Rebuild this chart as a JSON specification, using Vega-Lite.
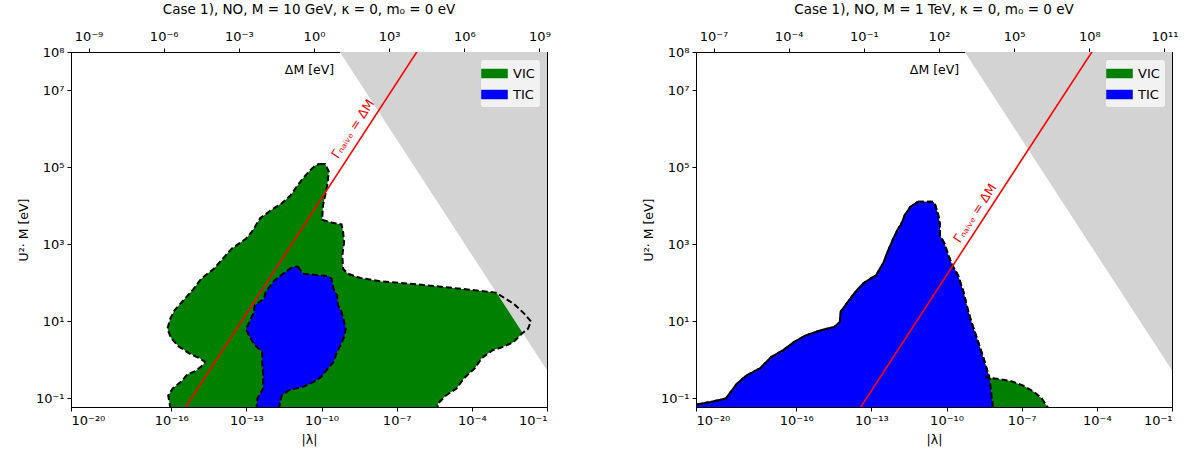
{
 "$schema": "https://vega.github.io/schema/vega-lite/v6.json",
 "background": "white",
 "padding": {"left": 16, "top": 2, "right": 5, "bottom": 2},
 "config": {
  "font": "DejaVu Sans",
  "view": {"stroke": "black", "strokeWidth": 1},
  "axis": {"grid": false, "domainColor": "black", "tickColor": "black", "labelColor": "black", "titleColor": "black", "labelFontSize": 13, "titleFontSize": 12.5, "titleFontWeight": "normal", "tickSize": 4, "labelPadding": 3, "labelFont": "DejaVu Sans", "titleFont": "DejaVu Sans"},
  "title": {"fontSize": 13.5, "fontWeight": "normal", "font": "DejaVu Sans", "offset": 14},
  "legend": {"orient": "top-right", "offset": 7, "title": null, "fillColor": "#f2f2f2", "strokeColor": "#d0d0d0", "padding": 5, "cornerRadius": 3, "labelFontSize": 13, "labelFont": "DejaVu Sans", "symbolType": "M-1.4,-0.5H1.4V0.5H-1.4Z", "symbolSize": 360, "symbolStrokeWidth": 0, "rowPadding": 4, "labelOffset": 9}
 },
 "datasets": {
  "vicL": [
   {"x": 8.13e-11, "y": 123000}, {"x": 1.41e-10, "y": 123000}, {"x": 1.95e-10, "y": 77600}, {"x": 1.70e-10, "y": 34700}, {"x": 1.41e-10, "y": 19100}, {"x": 1.15e-10, "y": 10500}, {"x": 1.05e-10, "y": 4370}, {"x": 2.51e-10, "y": 3720}, {"x": 6.31e-10, "y": 3310}, {"x": 7.24e-10, "y": 2140}, {"x": 7.94e-10, "y": 1150}, {"x": 6.76e-10, "y": 513}, {"x": 7.24e-10, "y": 234}, {"x": 1.12e-9, "y": 174}, {"x": 3.55e-9, "y": 135}, {"x": 2.51e-8, "y": 110}, {"x": 3.47e-7, "y": 95.5}, {"x": 9.33e-6, "y": 77.6}, {"x": 1.29e-4, "y": 64.6}, {"x": 9.12e-4, "y": 56.2}, {"x": 4.68e-3, "y": 28.8}, {"x": 1.26e-2, "y": 15.8}, {"x": 2.29e-2, "y": 10}, {"x": 1.74e-2, "y": 6.46}, {"x": 9.77e-3, "y": 4.79}, {"x": 4.68e-3, "y": 2.95}, {"x": 1.78e-3, "y": 2.19}, {"x": 6.61e-4, "y": 1.78}, {"x": 2.45e-4, "y": 1.10}, {"x": 1.29e-4, "y": 0.603}, {"x": 4.79e-5, "y": 0.331}, {"x": 2.45e-5, "y": 0.182}, {"x": 9.33e-6, "y": 0.120}, {"x": 4.47e-6, "y": 0.0741}, {"x": 3.98e-6, "y": 0.0316},
   {"x": 8.91e-17, "y": 0.0316}, {"x": 9.12e-17, "y": 0.0603}, {"x": 7.59e-17, "y": 0.120}, {"x": 1.15e-16, "y": 0.182}, {"x": 2.63e-16, "y": 0.282}, {"x": 4.27e-16, "y": 0.417}, {"x": 9.77e-16, "y": 0.525}, {"x": 1.78e-15, "y": 0.724}, {"x": 2.24e-15, "y": 0.891}, {"x": 1.35e-15, "y": 1.10}, {"x": 5.01e-16, "y": 1.51}, {"x": 1.91e-16, "y": 2.29}, {"x": 9.77e-17, "y": 3.72}, {"x": 7.08e-17, "y": 6.46}, {"x": 9.12e-17, "y": 11.7}, {"x": 1.35e-16, "y": 19.5}, {"x": 2.63e-16, "y": 31.6}, {"x": 7.08e-16, "y": 64.6}, {"x": 1.58e-15, "y": 129}, {"x": 5.01e-15, "y": 234}, {"x": 1.15e-14, "y": 427}, {"x": 2.57e-14, "y": 776}, {"x": 9.55e-14, "y": 1410}, {"x": 1.70e-13, "y": 2190}, {"x": 3.55e-13, "y": 4790}, {"x": 9.55e-13, "y": 7760}, {"x": 2.57e-12, "y": 11700}, {"x": 5.89e-12, "y": 19100}, {"x": 1.12e-11, "y": 34700}, {"x": 1.82e-11, "y": 52500}, {"x": 3.55e-11, "y": 85100}, {"x": 5.75e-11, "y": 115000}, {"x": 8.13e-11, "y": 123000}
  ],
  "ticL": [
   {"x": 1.12e-11, "y": 269}, {"x": 1.82e-11, "y": 174}, {"x": 1.82e-10, "y": 151}, {"x": 2.51e-10, "y": 129}, {"x": 3.02e-10, "y": 70.8}, {"x": 4.17e-10, "y": 47.9}, {"x": 4.57e-10, "y": 26.3}, {"x": 6.31e-10, "y": 17.8}, {"x": 7.94e-10, "y": 9.77}, {"x": 9.33e-10, "y": 6.46}, {"x": 7.94e-10, "y": 3.98}, {"x": 5.75e-10, "y": 2.40}, {"x": 4.17e-10, "y": 1.62}, {"x": 3.02e-10, "y": 0.891}, {"x": 1.82e-10, "y": 0.603}, {"x": 9.55e-11, "y": 0.363}, {"x": 4.90e-11, "y": 0.269}, {"x": 1.82e-11, "y": 0.200}, {"x": 4.90e-12, "y": 0.162}, {"x": 2.57e-12, "y": 0.120}, {"x": 2.04e-12, "y": 0.0603}, {"x": 2.00e-12, "y": 0.0316},
   {"x": 2.57e-13, "y": 0.0316}, {"x": 2.57e-13, "y": 0.0603}, {"x": 2.75e-13, "y": 0.1}, {"x": 4.68e-13, "y": 0.182}, {"x": 4.68e-13, "y": 0.398}, {"x": 4.27e-13, "y": 0.891}, {"x": 4.27e-13, "y": 1.62}, {"x": 2.19e-13, "y": 2.40}, {"x": 1.35e-13, "y": 3.98}, {"x": 9.55e-14, "y": 6.46}, {"x": 1.35e-13, "y": 9.77}, {"x": 2.00e-13, "y": 17.8}, {"x": 2.19e-13, "y": 26.3}, {"x": 5.01e-13, "y": 38.9}, {"x": 5.89e-13, "y": 57.5}, {"x": 1.32e-12, "y": 117}, {"x": 3.55e-12, "y": 191}, {"x": 6.76e-12, "y": 257}, {"x": 1.12e-11, "y": 269}
  ],
  "ticR": [
   {"x": 7.24e-12, "y": 12900}, {"x": 2.95e-11, "y": 12900}, {"x": 3.55e-11, "y": 10500}, {"x": 4.68e-11, "y": 5750}, {"x": 5.50e-11, "y": 3240}, {"x": 5.50e-11, "y": 1700}, {"x": 8.32e-11, "y": 1050}, {"x": 1.20e-10, "y": 513}, {"x": 1.70e-10, "y": 288}, {"x": 2.88e-10, "y": 158}, {"x": 4.79e-10, "y": 57.5}, {"x": 6.92e-10, "y": 21.4}, {"x": 9.77e-10, "y": 9.77}, {"x": 1.66e-9, "y": 3.55}, {"x": 2.75e-9, "y": 1.32}, {"x": 3.98e-9, "y": 0.603}, {"x": 5.01e-9, "y": 0.398}, {"x": 5.62e-9, "y": 0.219}, {"x": 7.08e-9, "y": 0.0603}, {"x": 7.24e-9, "y": 0.0316},
   {"x": 3.16e-21, "y": 0.0316}, {"x": 3.16e-21, "y": 0.0759}, {"x": 1e-20, "y": 0.0692}, {"x": 3.80e-20, "y": 0.0813}, {"x": 1.55e-19, "y": 0.1}, {"x": 2.19e-19, "y": 0.135}, {"x": 4.37e-19, "y": 0.245}, {"x": 1.05e-18, "y": 0.398}, {"x": 3.55e-18, "y": 0.603}, {"x": 1.02e-17, "y": 1.20}, {"x": 2.95e-17, "y": 1.78}, {"x": 8.32e-17, "y": 2.95}, {"x": 2.40e-16, "y": 4.37}, {"x": 9.55e-16, "y": 5.89}, {"x": 3.31e-15, "y": 7.24}, {"x": 5.50e-15, "y": 9.77}, {"x": 5.89e-15, "y": 17.8}, {"x": 1.12e-14, "y": 31.6}, {"x": 2.24e-14, "y": 57.5}, {"x": 4.57e-14, "y": 95.5}, {"x": 9.12e-14, "y": 129}, {"x": 1.55e-13, "y": 158}, {"x": 3.09e-13, "y": 347}, {"x": 4.37e-13, "y": 631}, {"x": 7.41e-13, "y": 1410}, {"x": 1.26e-12, "y": 2820}, {"x": 1.51e-12, "y": 3240}, {"x": 2.14e-12, "y": 5750}, {"x": 3.63e-12, "y": 9550}, {"x": 7.24e-12, "y": 12900}
  ],
  "vicR": [
   {"x": 7.24e-12, "y": 12900}, {"x": 2.95e-11, "y": 12900}, {"x": 3.55e-11, "y": 10500}, {"x": 4.68e-11, "y": 5750}, {"x": 5.50e-11, "y": 3240}, {"x": 5.50e-11, "y": 1700}, {"x": 8.32e-11, "y": 1050}, {"x": 1.20e-10, "y": 513}, {"x": 1.70e-10, "y": 288}, {"x": 2.88e-10, "y": 158}, {"x": 4.79e-10, "y": 57.5}, {"x": 6.92e-10, "y": 21.4}, {"x": 9.77e-10, "y": 9.77}, {"x": 1.66e-9, "y": 3.55}, {"x": 2.75e-9, "y": 1.32}, {"x": 3.98e-9, "y": 0.603},
   {"x": 3.80e-9, "y": 0.355}, {"x": 1.35e-8, "y": 0.316}, {"x": 3.80e-8, "y": 0.282}, {"x": 1.10e-7, "y": 0.219}, {"x": 3.16e-7, "y": 0.148}, {"x": 6.31e-7, "y": 0.1}, {"x": 1.07e-6, "y": 0.0603}, {"x": 1.12e-6, "y": 0.0316},
   {"x": 3.16e-21, "y": 0.0316}, {"x": 3.16e-21, "y": 0.0759}, {"x": 1e-20, "y": 0.0692}, {"x": 3.80e-20, "y": 0.0813}, {"x": 1.55e-19, "y": 0.1}, {"x": 2.19e-19, "y": 0.135}, {"x": 4.37e-19, "y": 0.245}, {"x": 1.05e-18, "y": 0.398}, {"x": 3.55e-18, "y": 0.603}, {"x": 1.02e-17, "y": 1.20}, {"x": 2.95e-17, "y": 1.78}, {"x": 8.32e-17, "y": 2.95}, {"x": 2.40e-16, "y": 4.37}, {"x": 9.55e-16, "y": 5.89}, {"x": 3.31e-15, "y": 7.24}, {"x": 5.50e-15, "y": 9.77}, {"x": 5.89e-15, "y": 17.8}, {"x": 1.12e-14, "y": 31.6}, {"x": 2.24e-14, "y": 57.5}, {"x": 4.57e-14, "y": 95.5}, {"x": 9.12e-14, "y": 129}, {"x": 1.55e-13, "y": 158}, {"x": 3.09e-13, "y": 347}, {"x": 4.37e-13, "y": 631}, {"x": 7.41e-13, "y": 1410}, {"x": 1.26e-12, "y": 2820}, {"x": 1.51e-12, "y": 3240}, {"x": 2.14e-12, "y": 5750}, {"x": 3.63e-12, "y": 9550}, {"x": 7.24e-12, "y": 12900}
  ],
  "gray": [{"x": 5.37e-11, "y": 1e9}, {"x": 1, "y": 1e9}, {"x": 1, "y": 0.0537}],
  "redL": [{"x": 1e-16, "y": 0.0158}, {"x": 1e-5, "y": 1.58e9}],
  "redR": [{"x": 1e-14, "y": 0.0158}, {"x": 1e-3, "y": 1.58e9}],
  "labL": [{"x": 1.78e-9, "y": 1e6, "t": "Γₙₐᵢᵥₑ = ΔM"}],
  "labR": [{"x": 1.38e-9, "y": 6460, "t": "Γₙₐᵢᵥₑ = ΔM"}]
 },
 "spacing": 90,
 "resolve": {"scale": {"fill": "independent"}, "legend": {"fill": "independent"}},
 "hconcat": [
  {
   "width": 476, "height": 355,
   "title": {"text": "Case 1), NO, M = 10 GeV, κ = 0, m₀ = 0 eV"},
   "resolve": {"axis": {"x": "independent", "y": "independent"}},
   "layer": [
    {"data": {"name": "vicL"}, "mark": {"type": "line", "clip": true, "strokeWidth": 0},
     "encoding": {
      "x": {"field": "x", "type": "quantitative", "scale": {"type": "log", "domain": [1e-20, 0.1], "nice": false}, "axis": {"orient": "bottom", "title": "|λ|", "titlePadding": 6, "values": [1e-20, 1e-16, 1e-13, 1e-10, 1e-7, 1e-4, 1e-1], "labelExpr": "'10' + replace(replace(replace(replace(replace(replace(replace(replace(replace(replace(replace(toString(round(log(datum.value)/LN10)),'-','⁻'),regexp('0','g'),'⁰'),regexp('1','g'),'¹'),'2','²'),'3','³'),'4','⁴'),'5','⁵'),'6','⁶'),'7','⁷'),'8','⁸'),'9','⁹')"}},
      "y": {"field": "y", "type": "quantitative", "scale": {"type": "log", "domain": [0.06, 1e8], "nice": false}, "axis": {"title": "U²· M [eV]", "values": [0.1, 10, 1000, 1e5, 1e7, 1e8], "titlePadding": 5, "labelExpr": "'10' + replace(replace(replace(replace(replace(replace(replace(replace(replace(replace(replace(toString(round(log(datum.value)/LN10)),'-','⁻'),regexp('0','g'),'⁰'),regexp('1','g'),'¹'),'2','²'),'3','³'),'4','⁴'),'5','⁵'),'6','⁶'),'7','⁷'),'8','⁸'),'9','⁹')"}},
      "order": {"value": null},
      "fill": {"datum": "VIC", "type": "nominal", "scale": {"domain": ["VIC", "TIC"], "range": ["#008000", "#0000ff"]}}
     }},
    {"data": {"name": "ticL"}, "mark": {"type": "line", "clip": true, "strokeWidth": 0},
     "encoding": {
      "x": {"field": "x", "type": "quantitative", "axis": null},
      "y": {"field": "y", "type": "quantitative", "axis": null},
      "order": {"value": null},
      "fill": {"datum": "TIC", "type": "nominal"}
     }},
    {"data": {"name": "gray"}, "mark": {"type": "line", "clip": true, "strokeWidth": 0, "fill": "#d3d3d3"},
     "encoding": {
      "x": {"field": "x", "type": "quantitative", "axis": {"orient": "top", "title": "ΔM [eV]", "titleY": 17, "titleBaseline": "middle", "labelPadding": 5, "values": [5e-20, 5e-17, 5e-14, 5e-11, 5e-8, 5e-5, 5e-2], "labelExpr": "'10' + replace(replace(replace(replace(replace(replace(replace(replace(replace(replace(replace(toString(round(log(datum.value*2e10)/LN10)),'-','⁻'),regexp('0','g'),'⁰'),regexp('1','g'),'¹'),'2','²'),'3','³'),'4','⁴'),'5','⁵'),'6','⁶'),'7','⁷'),'8','⁸'),'9','⁹')"}},
      "y": {"field": "y", "type": "quantitative", "axis": null},
      "order": {"value": null}
     }},
    {"data": {"name": "vicL"}, "mark": {"type": "line", "clip": true, "stroke": "black", "strokeWidth": 2, "strokeDash": [6, 3]},
     "encoding": {
      "x": {"field": "x", "type": "quantitative", "axis": null},
      "y": {"field": "y", "type": "quantitative", "axis": null},
      "order": {"value": null}
     }},
    {"data": {"name": "ticL"}, "mark": {"type": "line", "clip": true, "stroke": "black", "strokeWidth": 2, "strokeDash": [6, 3]},
     "encoding": {
      "x": {"field": "x", "type": "quantitative", "axis": null},
      "y": {"field": "y", "type": "quantitative", "axis": null},
      "order": {"value": null}
     }},
    {"data": {"name": "redL"}, "mark": {"type": "line", "clip": true, "stroke": "#ff0000", "strokeWidth": 1.6},
     "encoding": {
      "x": {"field": "x", "type": "quantitative", "axis": null},
      "y": {"field": "y", "type": "quantitative", "axis": null}
     }},
    {"data": {"name": "labL"}, "mark": {"type": "text", "angle": -57, "color": "#ff0000", "fontSize": 12.5, "align": "center", "baseline": "middle"},
     "encoding": {
      "x": {"field": "x", "type": "quantitative", "axis": null},
      "y": {"field": "y", "type": "quantitative", "axis": null},
      "text": {"field": "t"}
     }}
   ]
  },
  {
   "width": 476, "height": 355,
   "title": {"text": "Case 1), NO, M = 1 TeV, κ = 0, m₀ = 0 eV"},
   "resolve": {"axis": {"x": "independent", "y": "independent"}},
   "layer": [
    {"data": {"name": "vicR"}, "mark": {"type": "line", "clip": true, "strokeWidth": 0},
     "encoding": {
      "x": {"field": "x", "type": "quantitative", "scale": {"type": "log", "domain": [1e-20, 0.1], "nice": false}, "axis": {"orient": "bottom", "title": "|λ|", "titlePadding": 6, "values": [1e-20, 1e-16, 1e-13, 1e-10, 1e-7, 1e-4, 1e-1], "labelExpr": "'10' + replace(replace(replace(replace(replace(replace(replace(replace(replace(replace(replace(toString(round(log(datum.value)/LN10)),'-','⁻'),regexp('0','g'),'⁰'),regexp('1','g'),'¹'),'2','²'),'3','³'),'4','⁴'),'5','⁵'),'6','⁶'),'7','⁷'),'8','⁸'),'9','⁹')"}},
      "y": {"field": "y", "type": "quantitative", "scale": {"type": "log", "domain": [0.06, 1e8], "nice": false}, "axis": {"title": "U²· M [eV]", "values": [0.1, 10, 1000, 1e5, 1e7, 1e8], "titlePadding": 5, "labelExpr": "'10' + replace(replace(replace(replace(replace(replace(replace(replace(replace(replace(replace(toString(round(log(datum.value)/LN10)),'-','⁻'),regexp('0','g'),'⁰'),regexp('1','g'),'¹'),'2','²'),'3','³'),'4','⁴'),'5','⁵'),'6','⁶'),'7','⁷'),'8','⁸'),'9','⁹')"}},
      "order": {"value": null},
      "fill": {"datum": "VIC", "type": "nominal", "scale": {"domain": ["VIC", "TIC"], "range": ["#008000", "#0000ff"]}}
     }},
    {"data": {"name": "ticR"}, "mark": {"type": "line", "clip": true, "strokeWidth": 0},
     "encoding": {
      "x": {"field": "x", "type": "quantitative", "axis": null},
      "y": {"field": "y", "type": "quantitative", "axis": null},
      "order": {"value": null},
      "fill": {"datum": "TIC", "type": "nominal"}
     }},
    {"data": {"name": "gray"}, "mark": {"type": "line", "clip": true, "strokeWidth": 0, "fill": "#d3d3d3"},
     "encoding": {
      "x": {"field": "x", "type": "quantitative", "axis": {"orient": "top", "title": "ΔM [eV]", "titleY": 17, "titleBaseline": "middle", "labelPadding": 5, "values": [5e-20, 5e-17, 5e-14, 5e-11, 5e-8, 5e-5, 5e-2], "labelExpr": "'10' + replace(replace(replace(replace(replace(replace(replace(replace(replace(replace(replace(toString(round(log(datum.value*2e12)/LN10)),'-','⁻'),regexp('0','g'),'⁰'),regexp('1','g'),'¹'),'2','²'),'3','³'),'4','⁴'),'5','⁵'),'6','⁶'),'7','⁷'),'8','⁸'),'9','⁹')"}},
      "y": {"field": "y", "type": "quantitative", "axis": null},
      "order": {"value": null}
     }},
    {"data": {"name": "vicR"}, "mark": {"type": "line", "clip": true, "stroke": "black", "strokeWidth": 2, "strokeDash": [6, 3]},
     "encoding": {
      "x": {"field": "x", "type": "quantitative", "axis": null},
      "y": {"field": "y", "type": "quantitative", "axis": null},
      "order": {"value": null}
     }},
    {"data": {"name": "ticR"}, "mark": {"type": "line", "clip": true, "stroke": "black", "strokeWidth": 2, "strokeDash": [6, 3]},
     "encoding": {
      "x": {"field": "x", "type": "quantitative", "axis": null},
      "y": {"field": "y", "type": "quantitative", "axis": null},
      "order": {"value": null}
     }},
    {"data": {"name": "redR"}, "mark": {"type": "line", "clip": true, "stroke": "#ff0000", "strokeWidth": 1.6},
     "encoding": {
      "x": {"field": "x", "type": "quantitative", "axis": null},
      "y": {"field": "y", "type": "quantitative", "axis": null}
     }},
    {"data": {"name": "labR"}, "mark": {"type": "text", "angle": -57, "color": "#ff0000", "fontSize": 12.5, "align": "center", "baseline": "middle"},
     "encoding": {
      "x": {"field": "x", "type": "quantitative", "axis": null},
      "y": {"field": "y", "type": "quantitative", "axis": null},
      "text": {"field": "t"}
     }}
   ]
  }
 ]
}
